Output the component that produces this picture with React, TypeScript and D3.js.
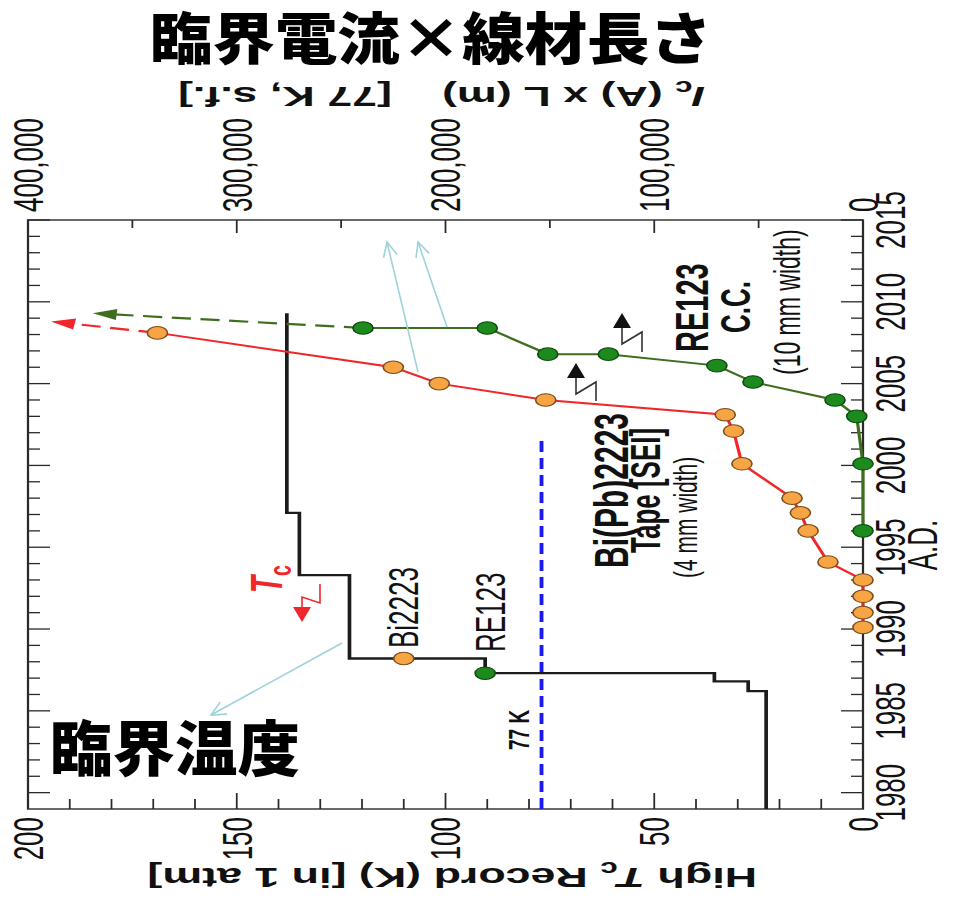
import React from "react";
import * as d3 from "d3";

// horizontal stretch of the original chart
const S = 1.6;

// ---- axis labels ----
const yearLabels = [1980, 1985, 1990, 1995, 2000, 2005, 2010, 2015];
const tcLabels = [0, 50, 100, 150, 200];
const icLabels = [0, 100000, 200000, 300000, 400000];

// ---- Tc record (step line) ----
const tcRecordYears = [1979, 1986.2, 1986.8, 1987.3, 1988.2, 1993.3, 1997.1, 2009.3];
const tcRecordK = [23.2, 27.5, 35.6, 90.5, 123, 135, 138, 138];

// markers on the Tc line
const bi2223Year = 1988.2;
const bi2223K = 110;
const re123Year = 1987.3;
const re123K = 90.5;

// ---- Bi(Pb)2223 tape Ic x L ----
const bscYears = [1990.1, 1991.0, 1992.0, 1993.0, 1994.1, 1996.0, 1997.1, 1998.0, 2000.1, 2002.1, 2003.1, 2004.0, 2005.0, 2006.0, 2008.1];
const bscIcL = [0, 0, 0, 0, 16800, 26300, 30000, 34000, 58000, 62000, 66000, 152000, 203000, 225000, 338000];
const bscArrowYear = 2008.8;
const bscArrowIcL = 389000;

// ---- RE123 coated conductor Ic x L ----
const ccYears = [1996.0, 2000.1, 2003.0, 2004.0, 2005.1, 2006.1, 2006.8, 2006.8, 2008.4, 2008.4];
const ccIcL = [0, 0, 3000, 13400, 52700, 70000, 122000, 151000, 180000, 239500];
const ccArrowYear = 2009.3;
const ccArrowIcL = 369000;

// ---- 77 K line ----
const line77Years = [1979, 2001.6];
const line77K = 77;

const FONT = "'Liberation Sans', Arial, Helvetica, sans-serif";
const JP = "'Noto Sans CJK JP', 'Noto Sans CJK SC', sans-serif";

const ORANGE = "#f6a444";
const ORANGE_EDGE = "#7a4d1c";
const GREEN = "#1d8a1d";
const GREEN_EDGE = "#0f4a0f";
const GREEN_LINE = "#3e6e1e";
const RED = "#f0262a";
const LIGHTBLUE = "#9ed3da";

// rotated (-90) text inside the stretched group; x = screen centre of glyphs
function RText(props: any) {
  const { x, y, fs, anchor = "middle", weight = "normal", fill = "#111", style, children } = props;
  const X = x / S + 0.358 * fs;
  return (
    <text
      transform={`translate(${X},${y}) rotate(-90)`}
      fontSize={fs}
      fontFamily={FONT}
      fontWeight={weight}
      textAnchor={anchor}
      fill={fill}
      fontStyle={style}
    >
      {children}
    </text>
  );
}

function arrowHeadPath(x1: number, y1: number, x2: number, y2: number, len: number, half: number) {
  const dx = x2 - x1, dy = y2 - y1;
  const d = Math.hypot(dx, dy);
  const ux = dx / d, uy = dy / d;
  const bx = x2 - ux * len, by = y2 - uy * len;
  const px = -uy, py = ux;
  return `M${x2},${y2}L${bx + px * half},${by + py * half}L${bx - px * half},${by - py * half}Z`;
}

function openHead(x1: number, y1: number, x2: number, y2: number, len: number, ang: number) {
  const a = Math.atan2(y1 - y2, x1 - x2);
  const p1 = [x2 + len * Math.cos(a + ang), y2 + len * Math.sin(a + ang)];
  const p2 = [x2 + len * Math.cos(a - ang), y2 + len * Math.sin(a - ang)];
  return `M${p1[0]},${p1[1]}L${x2},${y2}L${p2[0]},${p2[1]}`;
}

export default function App() {
  const L = 28, R = 863, T = 220, B = 809;
  const xTc = d3.scaleLinear().domain([0, 200]).range([R / S, L / S]);
  const xIc = d3.scaleLinear().domain([0, 400000]).range([R / S, L / S]);
  const yYr = d3.scaleLinear().domain([1979, 2015]).range([B, T]);

  const tcPath = d3
    .line<number>()
    .x((i) => xTc(tcRecordK[i]))
    .y((i) => yYr(tcRecordYears[i]))
    .curve(d3.curveStepBefore)(tcRecordYears.map((_, i) => i)) as string;

  const bscPath = d3
    .line<number>()
    .x((i) => xIc(bscIcL[i]))
    .y((i) => yYr(bscYears[i]))(bscYears.map((_, i) => i)) as string;

  const ccPath = d3
    .line<number>()
    .x((i) => xIc(ccIcL[i]))
    .y((i) => yYr(ccYears[i]))(ccYears.map((_, i) => i)) as string;

  const bLast = bscYears.length - 1;
  const bx1 = xIc(bscIcL[bLast]), by1 = yYr(bscYears[bLast]);
  const bx2 = xIc(bscArrowIcL), by2 = yYr(bscArrowYear);
  const cLast = ccYears.length - 1;
  const cx1 = xIc(ccIcL[cLast]), cy1 = yYr(ccYears[cLast]);
  const cx2 = xIc(ccArrowIcL), cy2 = yYr(ccArrowYear);

  const yearTicks = d3.range(1980, 2016);
  const tcTicks = d3.range(10, 200, 10);
  const icTicks = d3.range(50000, 400000, 50000);

  const axisColor = "#2a2a2a";

  return (
    <svg
      width={974}
      height={904}
      style={{ position: "absolute", left: 0, top: 0, background: "#fff" }}
    >
      <rect x={0} y={0} width={974} height={904} fill="#fff" />
      <g transform={`scale(${S},1)`}>
        {/* frame */}
        <rect
          x={L / S}
          y={T}
          width={(R - L) / S}
          height={B - T}
          fill="none"
          stroke={axisColor}
          strokeWidth={1.4}
        />
        {/* year ticks, both sides */}
        {yearTicks.map((yr) => {
          const major = yr % 5 === 0;
          const len = (major ? 22 : 12) / S;
          const y = yYr(yr);
          return (
            <g key={"yt" + yr}>
              <line x1={R / S} x2={R / S - len} y1={y} y2={y} stroke={axisColor} strokeWidth={1.3} />
              <line x1={L / S} x2={L / S + len} y1={y} y2={y} stroke={axisColor} strokeWidth={1.3} />
            </g>
          );
        })}
        {/* Tc ticks (bottom) */}
        {tcTicks.map((v) => {
          const major = v % 50 === 0;
          const x = xTc(v);
          return <line key={"tt" + v} x1={x} x2={x} y1={B} y2={B - (major ? 16 : 10)} stroke={axisColor} strokeWidth={1.1} />;
        })}
        {/* Ic ticks (top) */}
        {icTicks.map((v) => {
          const major = v % 100000 === 0;
          const x = xIc(v);
          return <line key={"it" + v} x1={x} x2={x} y1={T} y2={T + (major ? 13 : 8)} stroke={axisColor} strokeWidth={1.1} />;
        })}

        {/* tick labels */}
        {yearLabels.map((yr) => (
          <RText key={"yl" + yr} x={890} y={yYr(yr)} fs={26} anchor="middle">
            {yr}
          </RText>
        ))}
        {tcLabels.map((v) => (
          <RText key={"tl" + v} x={xTc(v) * S} y={817} fs={26} anchor="end">
            {v}
          </RText>
        ))}
        {icLabels.map((v) => (
          <RText key={"il" + v} x={xIc(v) * S} y={212} fs={26} anchor="start">
            {d3.format(",")(v)}
          </RText>
        ))}
        <RText x={922} y={545} fs={26} anchor="middle">
          A.D.
        </RText>

        {/* axis titles (upside down) */}
        <text
          transform={`translate(${757 / S},868) rotate(180)`}
          fontSize={28}
          fontFamily={FONT}
          fontWeight="bold"
          fill="#111"
        >
          High <tspan fontStyle="italic">T</tspan>
          <tspan fontSize="0.7em" dy="0.3em">c</tspan>
          <tspan dy="-0.21em"> Record (K) [in 1 atm]</tspan>
        </text>
        <text
          transform={`translate(${705 / S},87) rotate(180)`}
          fontSize={28}
          fontFamily={FONT}
          fontWeight="bold"
          fill="#111"
        >
          <tspan fontStyle="italic">I</tspan>
          <tspan fontSize="0.7em" dy="0.3em">c</tspan>
          <tspan dy="-0.21em"> (A) x L (m)</tspan>
        </text>
        <text
          transform={`translate(${392 / S},87) rotate(180)`}
          fontSize={28}
          fontFamily={FONT}
          fontWeight="bold"
          fill="#111"
        >
          [77 K, s.f.]
        </text>

        {/* 77 K line */}
        <line
          x1={xTc(line77K)}
          x2={xTc(line77K)}
          y1={yYr(line77Years[0])}
          y2={yYr(line77Years[1])}
          stroke="#1a1aee"
          strokeWidth={2.4}
          strokeDasharray="11,6"
        />
        <RText x={518} y={750} fs={19} anchor="start" weight="bold">
          77 K
        </RText>

        {/* Tc record */}
        <path d={tcPath} fill="none" stroke="#1c1c1c" strokeWidth={2.3} strokeLinejoin="miter" />
        <circle cx={xTc(bi2223K)} cy={yYr(bi2223Year)} r={6.3} fill={ORANGE} stroke={ORANGE_EDGE} strokeWidth={1} />
        <circle cx={xTc(re123K)} cy={yYr(re123Year)} r={6.3} fill={GREEN} stroke={GREEN_EDGE} strokeWidth={1} />
        <RText x={403} y={648} fs={26} anchor="start">
          Bi2223
        </RText>
        <RText x={490} y={652} fs={26} anchor="start">
          RE123
        </RText>

        {/* Coated conductor */}
        <path d={ccPath} fill="none" stroke={GREEN_LINE} strokeWidth={2} />
        <line x1={cx1} y1={cy1} x2={cx2 + 12} y2={cy2 + (cy1 - cy2) * (12 / (cx1 - cx2))} stroke={GREEN_LINE} strokeWidth={2.2} strokeDasharray="12,6" />
        <path d={arrowHeadPath(cx1, cy1, cx2, cy2, 15, 5.5)} fill={GREEN_LINE} />
        {ccYears.map((yr, i) => (
          <circle key={"cc" + i} cx={xIc(ccIcL[i])} cy={yYr(yr)} r={6.3} fill={GREEN} stroke={GREEN_EDGE} strokeWidth={1} />
        ))}

        {/* Bi(Pb)2223 */}
        <path d={bscPath} fill="none" stroke={RED} strokeWidth={2} />
        <line x1={bx1} y1={by1} x2={bx2 + 12} y2={by2 + (by1 - by2) * (12 / (bx1 - bx2))} stroke={RED} strokeWidth={2.2} strokeDasharray="12,6" />
        <path d={arrowHeadPath(bx1, by1, bx2, by2, 15, 5.5)} fill={RED} />
        {bscYears.map((yr, i) => (
          <circle key={"bs" + i} cx={xIc(bscIcL[i])} cy={yYr(yr)} r={6.3} fill={ORANGE} stroke={ORANGE_EDGE} strokeWidth={1} />
        ))}

        {/* labels */}
        <RText x={611} y={568} fs={30} anchor="start" weight="bold">
          Bi(Pb)2223
        </RText>
        <RText x={645} y={553} fs={26} anchor="start" weight="bold">
          Tape [SEI]
        </RText>
        <RText x={685} y={578} fs={21} anchor="start">
          (4 mm width)
        </RText>
        <RText x={691} y={352} fs={29} anchor="start" weight="bold">
          RE123
        </RText>
        <RText x={735} y={333} fs={26} anchor="start" weight="bold">
          C.C.
        </RText>
        <RText x={787} y={375} fs={23} anchor="start">
          (10 mm width)
        </RText>

        {/* Tc label */}
        <text
          transform={`translate(${266 / S + 0.358 * 28},593) rotate(-90)`}
          fontSize={28}
          fontFamily={FONT}
          fontWeight="bold"
          fill={RED}
        >
          <tspan fontStyle="italic">T</tspan>
          <tspan fontSize="0.7em" dy="0.3em">c</tspan>
        </text>
      </g>

      {/* zigzag arrows */}
      <path d="M293,607L311,607L302,622Z" fill={RED} />
      <path d="M302,607V597L320,603V584" fill="none" stroke={RED} strokeWidth={1.6} />
      <path d="M613,328L631,328L622,313Z" fill="#111" />
      <path d="M622,328V344L642,332V352" fill="none" stroke="#333" strokeWidth={1.6} />
      <path d="M567,378L585,378L576,363Z" fill="#111" />
      <path d="M576,378V394L596,382V401" fill="none" stroke="#333" strokeWidth={1.6} />

      {/* light blue annotation arrows */}
      <g stroke={LIGHTBLUE} strokeWidth={1.6} fill="none">
        <line x1={418} y1={372} x2={387} y2={242} />
        <path d={openHead(418, 372, 387, 242, 16, 0.45)} />
        <line x1={447} y1={327} x2={418} y2={242} />
        <path d={openHead(447, 327, 418, 242, 16, 0.45)} />
        <line x1={342} y1={643} x2={211} y2={715} />
        <path d={openHead(342, 643, 211, 715, 16, 0.45)} />
      </g>

      {/* Japanese titles */}
      <text
        x={150}
        y={59}
        fontSize={56}
        fontFamily={JP}
        fontWeight={900}
        fill="#000"
        textLength={562}
        lengthAdjust="spacingAndGlyphs"
      >
        臨界電流×線材長さ
      </text>
      <text
        x={50}
        y={771}
        fontSize={60}
        fontFamily={JP}
        fontWeight={900}
        fill="#000"
        textLength={250}
        lengthAdjust="spacingAndGlyphs"
      >
        臨界温度
      </text>
    </svg>
  );
}
